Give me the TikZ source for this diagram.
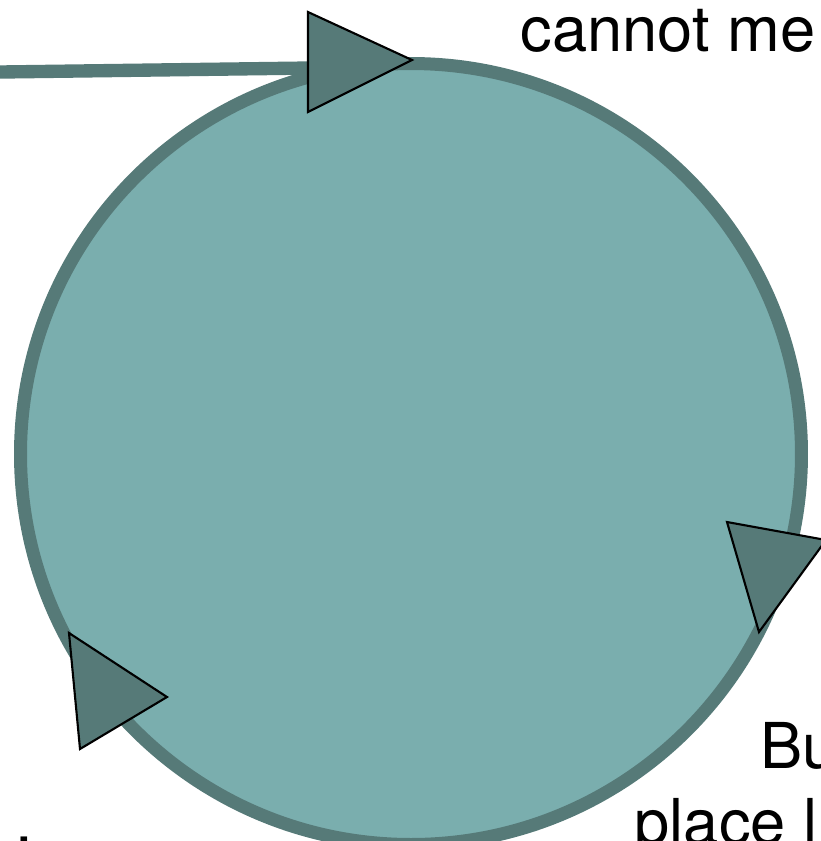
\documentclass[tikz,border=0pt]{standalone}
\usepackage{fontspec}
\setmainfont{TeX Gyre Heros}
\definecolor{cyclefill}{RGB}{122,174,174}
\definecolor{cycledark}{RGB}{86,122,120}
\usetikzlibrary{arrows.meta,positioning}
\tikzset{
  tri/.style={fill=cycledark, draw=black, line width=0.6pt, line join=miter},
  feedline/.style={draw=cycledark, line width=3.8pt},
  txt/.style={font=\fontsize{18}{21}\selectfont, inner sep=0pt, anchor=base west}
}
\begin{document}
\begin{tikzpicture}[x=0.1mm, y=-0.1mm]
  \useasboundingbox (0,0) rectangle (821,841);

  % Cycle
  \node[circle, fill=cyclefill, draw=cycledark, line width=3.7pt, inner sep=0pt, minimum size=7.81cm] (cycle) at (411,454) {};

  % Incoming line
  \coordinate (feed) at (0,72);
  \coordinate (entry) at (310,68);
  \draw[feedline] (feed) -- (entry);

  % Arrow heads on the cycle
  \filldraw[tri] (308,12) -- (412,60) -- (308,112) -- cycle;
  \filldraw[tri] (727,522) -- (826,540) -- (759,632) -- cycle;
  \filldraw[tri] (69,633) -- (167,697) -- (80,749) -- cycle;

  % Texts
  \node[txt] (tcannot) at (520,51) {cannot me};
  \node[txt] (tbu) at (760,768) {Bu};
  \node[txt] (tplace) at (634,844) {place l};
  \node[txt] (tdot) at (15,843) {.};
\end{tikzpicture}
\end{document}
